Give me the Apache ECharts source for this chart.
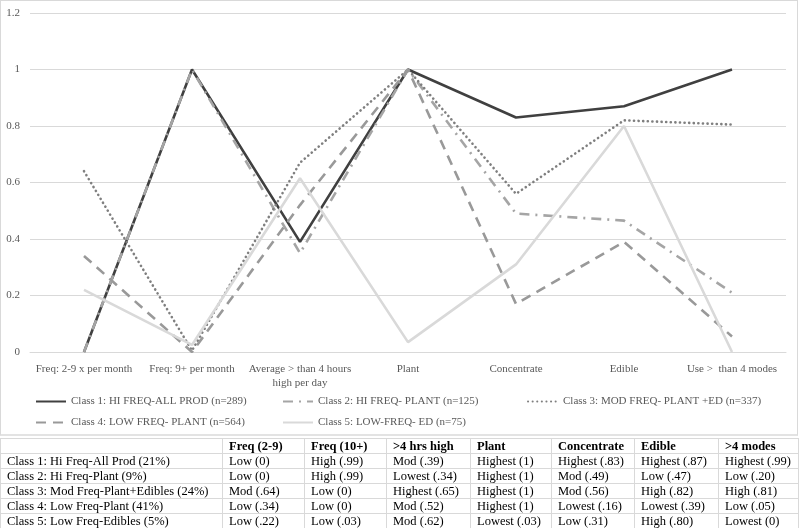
<!DOCTYPE html>
<html>
<head>
<meta charset="utf-8">
<script src="https://cdn.jsdelivr.net/npm/echarts@6/dist/echarts.min.js"></script>
<style>
  html, body { margin: 0; padding: 0; background: #fff; }
  #wrap { position: relative; width: 800px; height: 528px; overflow: hidden; }
  #chart { position: absolute; left: 0; top: 0; width: 800px; height: 528px; }
  #box { position: absolute; left: 0; top: 0; width: 796px; height: 433px; border: 1px solid #d9d9d9; border-bottom: 2px solid #e3e3e3; box-sizing: content-box; pointer-events: none; }
  #tbl { position: absolute; left: 0; top: 438px; width: 798px; border-collapse: collapse; font-family: "Liberation Serif", "Times New Roman", serif; font-size: 12.5px; color: #000; table-layout: fixed; }
  #tbl td, #tbl th { border: 1px solid #d9d9d9; padding: 0 0 0 6px; height: 14px; line-height: 14px; text-align: left; white-space: nowrap; overflow: hidden; }
  #tbl th { font-weight: bold; height: 14px; line-height: 14px; }
</style>
</head>
<body>
<div id="wrap">
  <div id="chart"></div>
  <div id="box"></div>
  <table id="tbl"></table>
</div>
<script>
// ---- data ----
var categories = ["Freq: 2-9 x per month", "Freq: 9+ per month", "Average > than 4 hours\nhigh per day", "Plant", "Concentrate", "Edible", "Use >  than 4 modes"];
var seriesNames = [
  "Class 1: HI FREQ-ALL PROD (n=289)",
  "Class 2: HI FREQ- PLANT (n=125)",
  "Class 3: MOD FREQ- PLANT +ED (n=337)",
  "Class 4: LOW FREQ- PLANT (n=564)",
  "Class 5: LOW-FREQ- ED (n=75)"
];
var class1 = [0, 1, 0.39, 1, 0.83, 0.87, 1];
var class2 = [0, 1, 0.35, 1, 0.49, 0.465, 0.21];
var class3 = [0.64, 0.005, 0.67, 1, 0.56, 0.82, 0.805];
var class4 = [0.34, 0, 0.52, 1, 0.17, 0.39, 0.055];
var class5 = [0.22, 0.025, 0.615, 0.035, 0.31, 0.80, 0];
var yTicks = [0, 0.2, 0.4, 0.6, 0.8, 1, 1.2];

var tableHeader = ["", "Freq (2-9)", "Freq (10+)", ">4 hrs high", "Plant", "Concentrate", "Edible", ">4 modes"];
var tableRowLabels = ["Class 1: Hi Freq-All Prod (21%)", "Class 2: Hi Freq-Plant (9%)", "Class 3: Mod Freq-Plant+Edibles (24%)", "Class 4: Low Freq-Plant (41%)", "Class 5: Low Freq-Edibles (5%)"];
var tableRow1 = ["Low (0)", "High (.99)", "Mod (.39)", "Highest (1)", "Highest (.83)", "Highest (.87)", "Highest (.99)"];
var tableRow2 = ["Low (0)", "High (.99)", "Lowest (.34)", "Highest (1)", "Mod (.49)", "Low (.47)", "Low (.20)"];
var tableRow3 = ["Mod (.64)", "Low (0)", "Highest (.65)", "Highest (1)", "Mod (.56)", "High (.82)", "High (.81)"];
var tableRow4 = ["Low (.34)", "Low (0)", "Mod (.52)", "Highest (1)", "Lowest (.16)", "Lowest (.39)", "Low (.05)"];
var tableRow5 = ["Low (.22)", "Low (.03)", "Mod (.62)", "Lowest (.03)", "Low (.31)", "High (.80)", "Lowest (0)"];

// ---- styles ----
var colWidths = [222, 82, 82, 84, 81, 83, 84, 80];
var styles = [
  { color: "#404040", type: "solid" },
  { color: "#a5a5a5", type: [10, 6, 2, 6] },
  { color: "#7f7f7f", type: [0.1, 4.5], cap: "round" },
  { color: "#999999", type: [10, 7] },
  { color: "#d9d9d9", type: "solid" }
];
var allData = [class1, class2, class3, class4, class5];
var font = '"Liberation Serif", "Times New Roman", serif';

var chart = echarts.init(document.getElementById("chart"), null, { renderer: "canvas" });
var series = allData.map(function (d, i) {
  return {
    name: seriesNames[i],
    type: "line",
    data: d,
    symbol: "none",
    smooth: false,
    lineStyle: { width: 2.6, color: styles[i].color, type: styles[i].type, cap: styles[i].cap || "butt" },
    itemStyle: { color: styles[i].color },
    emphasis: { disabled: true },
    animation: false
  };
});
var legendPos = [[35, 396], [282, 396], [527, 396], [35, 417], [282, 417]];
var legends = seriesNames.map(function (n, i) {
  return {
    data: [n],
    left: legendPos[i][0],
    top: legendPos[i][1],
    padding: 0,
    itemWidth: 30,
    itemHeight: 12,
    itemGap: 0,
    itemStyle: { opacity: 0 },
    textStyle: { fontFamily: font, fontSize: 11, color: "#595959" },
    selectedMode: false
  };
});

chart.setOption({
  animation: false,
  grid: { left: 30, right: 14, top: 13, bottom: 176, containLabel: false },
  legend: legends,
  xAxis: {
    type: "category",
    data: categories,
    boundaryGap: true,
    axisLine: { show: true, lineStyle: { color: "#d9d9d9", width: 1 } },
    axisTick: { show: false },
    axisLabel: { fontFamily: font, fontSize: 11, color: "#595959", margin: 10, interval: 0, lineHeight: 14 }
  },
  yAxis: {
    type: "value",
    min: 0,
    max: 1.2,
    interval: 0.2,
    axisLine: { show: false },
    axisTick: { show: false },
    splitLine: { lineStyle: { color: "#d9d9d9", width: 1 } },
    axisLabel: {
      fontFamily: font, fontSize: 11, color: "#595959", margin: 10,
      formatter: function (v) {
        var r = Math.round(v * 10) / 10;
        for (var k = 0; k < yTicks.length; k++) { if (Math.abs(yTicks[k] - r) < 1e-6) return String(yTicks[k]); }
        return "";
      }
    }
  },
  series: series
});

// ---- table ----
var tbl = document.getElementById("tbl");
var cg = document.createElement("colgroup");
colWidths.forEach(function (w) { var c = document.createElement("col"); c.style.width = w + "px"; cg.appendChild(c); });
tbl.appendChild(cg);
var tr = document.createElement("tr");
tableHeader.forEach(function (h) { var th = document.createElement("th"); th.textContent = h; tr.appendChild(th); });
tbl.appendChild(tr);
[tableRow1, tableRow2, tableRow3, tableRow4, tableRow5].forEach(function (row, i) {
  var r = document.createElement("tr");
  var td0 = document.createElement("td"); td0.textContent = tableRowLabels[i]; r.appendChild(td0);
  row.forEach(function (v) { var td = document.createElement("td"); td.textContent = v; r.appendChild(td); });
  tbl.appendChild(r);
});
</script>
</body>
</html>
